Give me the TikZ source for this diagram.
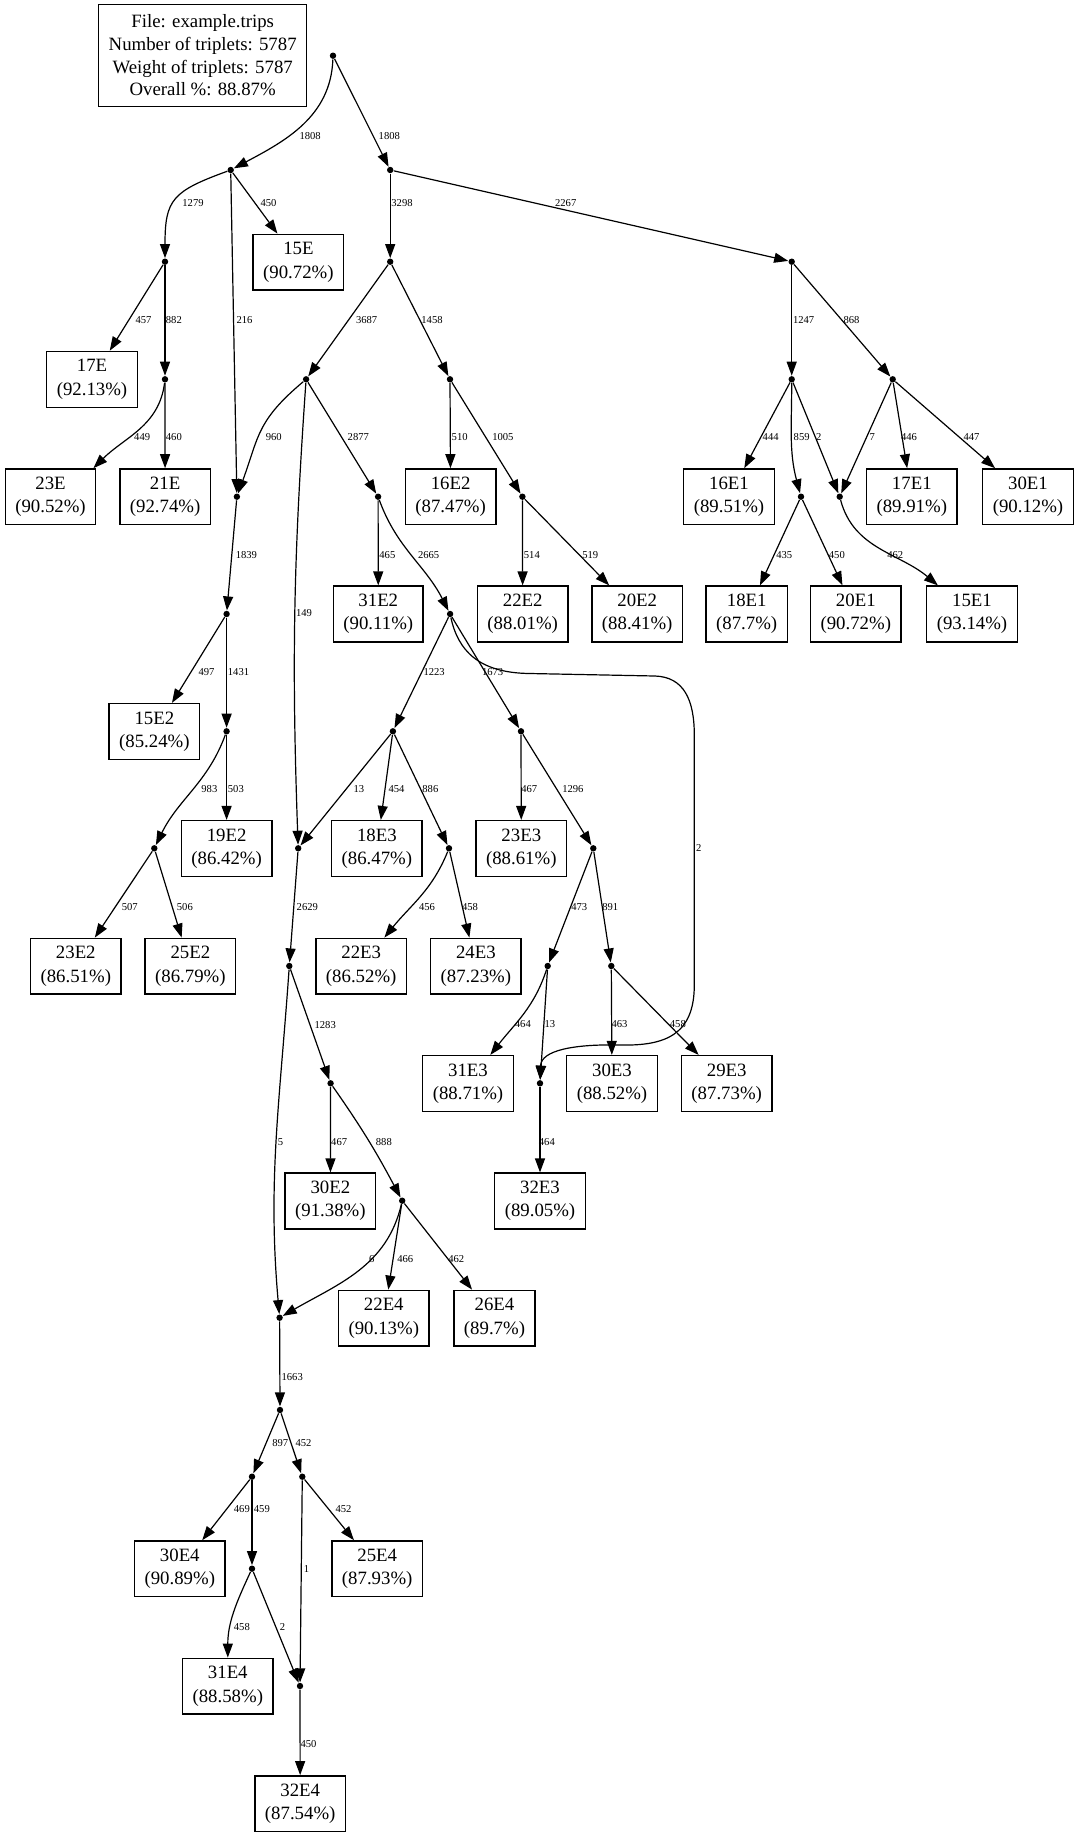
\documentclass[tikz,border=0pt]{standalone}
\usepackage{fontspec}
\setmainfont{Liberation Serif}
\usepackage{tikz}
\usetikzlibrary{arrows.meta}

\tikzset{
    junc/.style={circle,fill,inner sep=0pt,minimum size=3.2pt},
    leaf/.style={draw,line width=0.7pt,align=center,inner xsep=5pt,minimum height=27.9pt,font=\fontsize{9.4}{11.6}\selectfont},
    info/.style={draw,line width=0.7pt,align=center,inner xsep=5pt,minimum height=50.8pt,font=\fontsize{9.4}{11.3}\selectfont},
    flow/.style={line width=0.6pt,-{Triangle[length=7pt,width=5pt]}},
    wt/.style={anchor=west,inner sep=0pt,font=\fontsize{5.3}{6}\selectfont},
}

\begin{document}
\begin{tikzpicture}[x=0.5pt,y=0.5pt]
    \useasboundingbox (0,0) rectangle (1080,-1837);
    \node [info] (info) at (202.7,-55.5) {File: example.trips\\Number of triplets: 5787\\Weight of triplets: 5787\\Overall \%: 88.87\%};

    % junction points
    \node [junc] (root) at (333,-55.7) {};
    \node [junc] (A) at (230.7,-170) {};
    \node [junc] (B) at (390.2,-170) {};
    \node [junc] (C) at (165,-261.7) {};
    \node [junc] (D) at (390.2,-261.7) {};
    \node [junc] (X) at (791.7,-261.7) {};
    \node [junc] (E) at (165,-379.3) {};
    \node [junc] (F) at (306.1,-379.3) {};
    \node [junc] (G) at (450,-379.3) {};
    \node [junc] (V) at (791.7,-379.3) {};
    \node [junc] (W) at (892.7,-379.3) {};
    \node [junc] (H) at (236.9,-496.7) {};
    \node [junc] (I) at (378.1,-496.7) {};
    \node [junc] (J) at (522.4,-496.7) {};
    \node [junc] (T) at (801,-496.7) {};
    \node [junc] (U) at (839.7,-496.7) {};
    \node [junc] (K) at (226.6,-614) {};
    \node [junc] (L) at (450.1,-614) {};
    \node [junc] (M) at (226.6,-731.3) {};
    \node [junc] (N) at (392.9,-731.3) {};
    \node [junc] (O) at (521,-731.3) {};
    \node [junc] (P) at (154.3,-848.3) {};
    \node [junc] (Q) at (298.2,-848.3) {};
    \node [junc] (R) at (449,-848.3) {};
    \node [junc] (S) at (593.3,-848.3) {};
    \node [junc] (Y) at (289.3,-966) {};
    \node [junc] (S1) at (547.7,-966) {};
    \node [junc] (S2) at (611.3,-966) {};
    \node [junc] (Z) at (330.6,-1083.3) {};
    \node [junc] (S3) at (540,-1083.3) {};
    \node [junc] (Z1) at (402.2,-1200.7) {};
    \node [junc] (Y1) at (279.6,-1317.7) {};
    \node [junc] (Y2) at (280,-1410) {};
    \node [junc] (Y3) at (252,-1476.7) {};
    \node [junc] (Y4) at (302.3,-1476.7) {};
    \node [junc] (Y5) at (252,-1568.7) {};
    \node [junc] (Y6) at (300,-1686) {};

    % leaves
    \node [leaf] (n15E) at (298.4,-262.2) {15E\\(90.72\%)};
    \node [leaf] (n17E) at (92,-379.3) {17E\\(92.13\%)};
    \node [leaf] (n23E) at (50.5,-496.8) {23E\\(90.52\%)};
    \node [leaf] (n21E) at (165.1,-496.8) {21E\\(92.74\%)};
    \node [leaf] (n16E2) at (450.6,-496.8) {16E2\\(87.47\%)};
    \node [leaf] (n16E1) at (729,-496.8) {16E1\\(89.51\%)};
    \node [leaf] (n17E1) at (911.8,-496.8) {17E1\\(89.91\%)};
    \node [leaf] (n30E1) at (1028,-496.8) {30E1\\(90.12\%)};
    \node [leaf] (n31E2) at (378.3,-614) {31E2\\(90.11\%)};
    \node [leaf] (n22E2) at (522.7,-614) {22E2\\(88.01\%)};
    \node [leaf] (n20E2) at (637.2,-614) {20E2\\(88.41\%)};
    \node [leaf] (n18E1) at (746.7,-614) {18E1\\(87.7\%)};
    \node [leaf] (n20E1) at (855.8,-614) {20E1\\(90.72\%)};
    \node [leaf] (n15E1) at (972,-614) {15E1\\(93.14\%)};
    \node [leaf] (n15E2) at (154.4,-731.5) {15E2\\(85.24\%)};
    \node [leaf] (n19E2) at (226.6,-848.5) {19E2\\(86.42\%)};
    \node [leaf] (n18E3) at (376.9,-848.5) {18E3\\(86.47\%)};
    \node [leaf] (n23E3) at (521.3,-848.5) {23E3\\(88.61\%)};
    \node [leaf] (n23E2) at (75.8,-966.2) {23E2\\(86.51\%)};
    \node [leaf] (n25E2) at (190.4,-966.2) {25E2\\(86.79\%)};
    \node [leaf] (n22E3) at (361.2,-966.2) {22E3\\(86.52\%)};
    \node [leaf] (n24E3) at (475.9,-966.2) {24E3\\(87.23\%)};
    \node [leaf] (n31E3) at (468,-1083.5) {31E3\\(88.71\%)};
    \node [leaf] (n30E3) at (612,-1083.5) {30E3\\(88.52\%)};
    \node [leaf] (n29E3) at (726.7,-1083.5) {29E3\\(87.73\%)};
    \node [leaf] (n30E2) at (330.4,-1201) {30E2\\(91.38\%)};
    \node [leaf] (n32E3) at (540,-1201) {32E3\\(89.05\%)};
    \node [leaf] (n22E4) at (383.8,-1318.2) {22E4\\(90.13\%)};
    \node [leaf] (n26E4) at (494.5,-1318.2) {26E4\\(89.7\%)};
    \node [leaf] (n30E4) at (179.8,-1568.8) {30E4\\(90.89\%)};
    \node [leaf] (n25E4) at (377.2,-1568.8) {25E4\\(87.93\%)};
    \node [leaf] (n31E4) at (227.8,-1686.2) {31E4\\(88.58\%)};
    \node [leaf] (n32E4) at (300.2,-1803.7) {32E4\\(87.54\%)};

    % connectors with weights
    \draw [flow] (root) to[out=-92,in=28] (A) node [wt] (w1) at (298.9,-136.3) {1808};
    \draw [flow] (root) -- (B) node [wt] (w2) at (378.1,-136.3) {1808};
    \draw [flow] (A) to[out=200,in=90,looseness=1.4] (C) node [wt] (w3) at (181.8,-203.3) {1279};
    \draw [flow] (A) -- (n15E) node [wt] (w4) at (260,-203.3) {450};
    \draw [flow] (A) -- (H) node [wt] (w5) at (235.9,-320.3) {216};
    \draw [flow] (B) -- (D) node [wt] (w6) at (390.8,-203.3) {3298};
    \draw [flow] (B) -- (X) node [wt] (w7) at (554.5,-203.3) {2267};
    \draw [flow] (C) -- (n17E) node [wt] (w8) at (135,-320.3) {457};
    \draw [flow] (C) -- (E) node [wt] (w9) at (165.3,-320.3) {882};
    \draw [flow] (D) -- (F) node [wt] (w10) at (355.4,-320.3) {3687};
    \draw [flow] (D) -- (G) node [wt] (w11) at (420.8,-320.3) {1458};
    \draw [flow] (X) -- (V) node [wt] (w12) at (792.4,-320.3) {1247};
    \draw [flow] (X) -- (W) node [wt] (w13) at (843,-320.3) {868};
    \draw [flow] (E) to[out=-97,in=45] ([xshift=-1.5pt]n23E.north east) node [wt] (w14) at (133.6,-437.3) {449};
    \draw [flow] (E) -- (n21E) node [wt] (w15) at (165.3,-437.3) {460};
    \draw [flow] (F) to[out=-140,in=70,looseness=1.2] (H) node [wt] (w16) at (265.2,-437.3) {960};
    \draw [flow] (F) to[out=-94,in=92] (Q) node [wt] (w17) at (295.5,-613.3) {149};
    \draw [flow] (F) -- (I) node [wt] (w18) at (347.1,-437.3) {2877};
    \draw [flow] (G) -- (n16E2) node [wt] (w19) at (451.1,-437.3) {510};
    \draw [flow] (G) -- (J) node [wt] (w20) at (491.7,-437.3) {1005};
    \draw [flow] (V) -- (n16E1) node [wt] (w21) at (762.1,-437.3) {444};
    \draw [flow] (V) to[out=-90,in=105] (T) node [wt] (w22) at (793.1,-437.3) {859};
    \draw [flow] (V) -- (U) node [wt] (w23) at (815.5,-437.3) {2};
    \draw [flow] (W) -- (U) node [wt] (w24) at (868.9,-437.3) {7};
    \draw [flow] (W) -- (n17E1) node [wt] (w25) at (900.5,-437.3) {446};
    \draw [flow] (W) -- (n30E1) node [wt] (w26) at (962.9,-437.3) {447};
    \draw [flow] (T) -- (n18E1) node [wt] (w27) at (775.7,-555) {435};
    \draw [flow] (T) -- (n20E1) node [wt] (w28) at (828.3,-555) {450};
    \draw [flow] (U) to[out=-75,in=140] (n15E1) node [wt] (w29) at (886.7,-555) {462};
    \draw [flow] (H) -- (K) node [wt] (w30) at (235.2,-555.3) {1839};
    \draw [flow] (I) -- (n31E2) node [wt] (w31) at (378.8,-555.3) {465};
    \draw [flow] (I) to[out=-70,in=117] (L) node [wt] (w32) at (417.4,-555.3) {2665};
    \draw [flow] (J) -- (n22E2) node [wt] (w33) at (523.3,-555.3) {514};
    \draw [flow] (J) -- (n20E2) node [wt] (w34) at (581.7,-555.3) {519};
    \draw [flow] (K) -- (n15E2) node [wt] (w35) at (198,-672.3) {497};
    \draw [flow] (K) -- (M) node [wt] (w36) at (227.3,-672.3) {1431};
    \draw [flow] (L) -- (N) node [wt] (w37) at (422.9,-672.3) {1223};
    \draw [flow] (L) -- (O) node [wt] (w38) at (481.4,-672.3) {1673};
    \draw [flow] (L) .. controls (458,-650) and (478,-673) .. (530,-673.5) -- (655,-676)
        .. controls (684,-677) and (694.3,-700) .. (694.3,-735) -- (694.3,-985)
        .. controls (694.3,-1035) and (665,-1046) .. (620,-1045)
        .. controls (575,-1044) and (541,-1050) .. (S3) node [wt] (w39) at (695.5,-848.3) {2};
    \draw [flow] (M) to[out=-110,in=64] (P) node [wt] (w40) at (200.8,-789.3) {983};
    \draw [flow] (M) -- (n19E2) node [wt] (w41) at (227.3,-789.3) {503};
    \draw [flow] (N) -- (Q) node [wt] (w42) at (353,-789.3) {13};
    \draw [flow] (N) -- (n18E3) node [wt] (w43) at (388,-789.3) {454};
    \draw [flow] (N) -- (R) node [wt] (w44) at (421.8,-789.3) {886};
    \draw [flow] (O) -- (n23E3) node [wt] (w45) at (520.7,-789.3) {467};
    \draw [flow] (O) -- (S) node [wt] (w46) at (561.7,-789.3) {1296};
    \draw [flow] (P) -- (n23E2) node [wt] (w47) at (121.2,-907.3) {507};
    \draw [flow] (P) -- (n25E2) node [wt] (w48) at (176.3,-907.3) {506};
    \draw [flow] (Q) -- (Y) node [wt] (w49) at (296.1,-907.3) {2629};
    \draw [flow] (R) to[out=-112,in=51] (n22E3) node [wt] (w50) at (418.4,-907.3) {456};
    \draw [flow] (R) -- (n24E3) node [wt] (w51) at (461.4,-907.3) {458};
    \draw [flow] (S) -- (S1) node [wt] (w52) at (570.7,-907.3) {473};
    \draw [flow] (S) -- (S2) node [wt] (w53) at (601.7,-907.3) {891};
    \draw [flow] (Y) to[out=-94,in=95] (Y1) node [wt] (w54) at (277.2,-1141.7) {5};
    \draw [flow] (Y) -- (Z) node [wt] (w55) at (314,-1024.7) {1283};
    \draw [flow] (S1) to[out=-108,in=52] (n31E3) node [wt] (w56) at (514.3,-1024.3) {464};
    \draw [flow] (S1) -- (S3) node [wt] (w57) at (544,-1024.3) {13};
    \draw [flow] (S2) -- (n30E3) node [wt] (w58) at (611,-1024.3) {463};
    \draw [flow] (S2) -- (n29E3) node [wt] (w59) at (669.3,-1024.3) {458};
    \draw [flow] (Z) -- (n30E2) node [wt] (w60) at (330.6,-1141.7) {467};
    \draw [flow] (Z) to[out=-55,in=118] (Z1) node [wt] (w61) at (375.3,-1141.7) {888};
    \draw [flow] (S3) -- (n32E3) node [wt] (w62) at (538.3,-1141.7) {464};
    \draw [flow] (Z1) to[out=-103,in=30] (Y1) node [wt] (w63) at (368.5,-1259.3) {6};
    \draw [flow] (Z1) -- (n22E4) node [wt] (w64) at (396.7,-1259.3) {466};
    \draw [flow] (Z1) -- (n26E4) node [wt] (w65) at (447.7,-1259.3) {462};
    \draw [flow] (Y1) -- (Y2) node [wt] (w66) at (281,-1376.7) {1663};
    \draw [flow] (Y2) -- (Y3) node [wt] (w67) at (271.7,-1443.3) {897};
    \draw [flow] (Y2) -- (Y4) node [wt] (w68) at (295,-1443.3) {452};
    \draw [flow] (Y3) -- (n30E4) node [wt] (w69) at (233.3,-1509.3) {469};
    \draw [flow] (Y3) -- (Y5) node [wt] (w70) at (253.3,-1509.3) {459};
    \draw [flow] (Y4) -- (n25E4) node [wt] (w71) at (335,-1509.3) {452};
    \draw [flow] (Y4) -- (Y6) node [wt] (w72) at (303.3,-1568.7) {1};
    \draw [flow] (Y5) to[out=-115,in=90] (n31E4) node [wt] (w73) at (233.3,-1627.3) {458};
    \draw [flow] (Y5) -- (Y6) node [wt] (w74) at (279.3,-1627.3) {2};
    \draw [flow] (Y6) -- (n32E4) node [wt] (w75) at (300,-1744.3) {450};
\end{tikzpicture}
\end{document}
